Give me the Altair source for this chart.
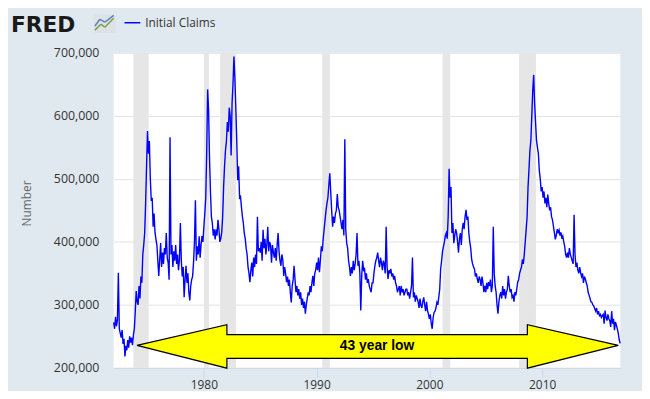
import altair as alt
import pandas as pd

# ---------------- data (monthly readings, thousands of claims) ----------------
FIRST_YEAR = 1972
claims_1970s = [
    272, 262, 281, 266, 276, 351, 262, 255, 248, 260, 238, 246,   # 1972
    218, 235, 228, 244, 232, 250, 240, 248, 236, 252, 262, 290,   # 1973
    322, 305, 300, 330, 310, 345, 335, 380, 395, 414, 461, 520,   # 1974
    576, 540, 560, 500, 465, 470, 424, 445, 415, 404, 395, 370,   # 1975
    346, 372, 398, 360, 383, 365, 390, 380, 414, 375, 367, 340,   # 1976
    566, 380, 395, 360, 385, 370, 395, 365, 380, 355, 372, 430,   # 1977
    370, 345, 360, 312, 340, 362, 335, 350, 320, 307, 330, 340,   # 1978
    345, 367, 400, 466, 370, 393, 380, 409, 375, 395, 409, 400,   # 1979
]
claims_1980s = [
    424, 445, 470, 540, 642, 610, 534, 480, 440, 430, 410, 420,   # 1980
    404, 420, 410, 435, 420, 400, 405, 415, 440, 487, 520, 545,   # 1981
    560, 590, 575, 613, 600, 537, 620, 650, 694, 660, 613, 560,   # 1982
    498, 520, 470, 472, 455, 440, 430, 414, 405, 390, 380, 360,   # 1983
    350, 336, 355, 367, 345, 375, 360, 380, 365, 440, 385, 390,   # 1984
    383, 400, 370, 419, 390, 405, 380, 395, 424, 385, 400, 395,   # 1985
    367, 395, 383, 375, 390, 370, 395, 414, 385, 370, 362, 380,   # 1986
    372, 346, 360, 350, 336, 345, 330, 340, 320, 304, 330, 340,   # 1987
    362, 340, 320, 330, 315, 325, 310, 320, 300, 310, 295, 305,   # 1988
    286, 300, 310, 320, 315, 330, 320, 335, 346, 330, 350, 355,   # 1989
]
claims_1990s = [
    367, 355, 375, 352, 370, 393, 385, 405, 420, 435, 450, 461,   # 1990
    470, 490, 509, 480, 450, 424, 440, 430, 445, 450, 476, 455,   # 1991
    450, 440, 430, 420, 435, 410, 563, 420, 398, 390, 370, 360,   # 1992
    346, 360, 350, 370, 355, 365, 380, 414, 362, 370, 350, 291,   # 1993
    346, 370, 355, 357, 340, 350, 335, 341, 330, 325, 320, 335,   # 1994
    335, 350, 362, 370, 375, 383, 370, 360, 375, 367, 355, 370,   # 1995
    365, 350, 424, 360, 341, 355, 350, 357, 345, 350, 340, 346,   # 1996
    335, 330, 320, 325, 330, 315, 330, 320, 325, 315, 320, 325,   # 1997
    325, 315, 320, 310, 320, 330, 375, 312, 320, 305, 315, 310,   # 1998
    305, 295, 310, 299, 295, 305, 312, 300, 290, 305, 291, 285,   # 1999
]
claims_2000s = [
    278, 285, 270, 262, 280, 288, 290, 295, 304, 300, 312, 325,   # 2000
    357, 370, 385, 393, 400, 410, 414, 405, 440, 516, 470, 487,   # 2001
    414, 430, 398, 410, 420, 414, 400, 383, 405, 414, 395, 420,   # 2002
    430, 420, 440, 451, 435, 440, 414, 400, 390, 372, 365, 360,   # 2003
    357, 345, 350, 341, 335, 345, 340, 330, 345, 335, 320, 330,   # 2004
    320, 335, 325, 336, 330, 340, 320, 330, 424, 350, 330, 320,   # 2005
    300, 286, 305, 315, 320, 310, 330, 315, 325, 310, 320, 325,   # 2006
    346, 330, 320, 325, 312, 315, 305, 320, 315, 325, 336, 340,   # 2007
    350, 355, 360, 372, 365, 380, 400, 419, 440, 487, 515, 545,   # 2008
    561, 600, 640, 665, 620, 590, 561, 550, 540, 513, 500, 480,   # 2009
]
claims_2010s = [
    487, 470, 480, 461, 470, 455, 475, 461, 450, 455, 440, 435,   # 2010
    425, 415, 404, 410, 420, 415, 419, 410, 415, 405, 409, 400,   # 2011
    393, 380, 375, 383, 375, 390, 380, 375, 370, 365, 443, 380,   # 2012
    360, 367, 355, 350, 360, 351, 345, 350, 335, 345, 341, 335,   # 2013
    330, 320, 315, 310, 305, 304, 300, 298, 294, 290, 295, 285,   # 2014
    290, 283, 285, 280, 283, 285, 270, 291, 280, 275, 285, 278,   # 2015
    275, 265, 290, 270, 278, 260, 273, 268, 262, 255, 245, 239,   # 2016
]

rec_start = [1973.75, 1980.0, 1981.45, 1990.5, 2001.17, 2007.95]
rec_end = [1975.1, 1980.45, 1982.85, 1991.17, 2001.85, 2009.45]

x_ticks = [1980, 1990, 2000, 2010]
y_ticks = [200000, 300000, 400000, 500000, 600000, 700000]
x_domain = [1972, 2016.93]
y_domain = [200000, 700000]

# double arrow outline (year, top value, bottom value)
arrow_x = [1974.07, 1982.04, 1982.041, 2008.689, 2008.69, 2016.75]
arrow_top = [235600, 268600, 252900, 252900, 268600, 235600]
arrow_bot = [235600, 199500, 215200, 215200, 199500, 235600]
arrow_label = "43 year low"
arrow_label_x = 1995.36
arrow_label_y = 234000

series_name = "Initial Claims"

# ---------------- tables ----------------
values_k = claims_1970s + claims_1980s + claims_1990s + claims_2000s + claims_2010s
df = pd.DataFrame({
    "t": [FIRST_YEAR + i / 12 for i in range(len(values_k))],
    "v": [k * 1000 for k in values_k],
})
rec_df = pd.DataFrame({"s": rec_start, "e": rec_end})
arrow_df = pd.DataFrame({"ax": arrow_x, "top": arrow_top, "bot": arrow_bot})
label_df = pd.DataFrame({"lx": [arrow_label_x], "ly": [arrow_label_y], "txt": [arrow_label]})
one = pd.DataFrame({"k": [0]})

W, H = 513, 319
xs = alt.Scale(domain=x_domain, nice=False, zero=False)
ys = alt.Scale(domain=y_domain, nice=False, zero=False)

x_axis = alt.Axis(
    values=x_ticks, labelExpr="format(datum.value, 'd')", grid=False, title="",
    domainColor="#ccd6eb", tickColor="#ccd6eb", tickSize=10,
    labelPadding=2, labelFont="Open Sans", labelFontSize=12, labelColor="#333333")
y_axis = alt.Axis(
    values=y_ticks, labelExpr="format(datum.value, ',')", grid=True, gridColor="#e3e3e3",
    domain=False, ticks=False, tickSize=0, labelPadding=15, labelFont="Open Sans",
    labelFontSize=12.5, labelColor="#333333", title="Number", titleFont="Open Sans",
    titleFontSize=12, titleFontWeight="normal", titleColor="#666666",
    titleX=-88, titleY=152, titleBaseline="middle", titleAlign="center")

bands = alt.Chart(rec_df).mark_rect(color="#e6e6e6").encode(
    x=alt.X("s:Q", scale=xs, axis=x_axis),
    x2="e:Q",
    y=alt.value(0),
    y2=alt.value(H),
)

line = alt.Chart(df).mark_line(color="#0000ff", strokeWidth=1.4).encode(
    x=alt.X("t:Q", scale=xs, axis=x_axis),
    y=alt.Y("v:Q", scale=ys, axis=y_axis),
)

arrow = alt.Chart(arrow_df).mark_area(fill="#ffff00", stroke="black", strokeWidth=1.2,
                                      opacity=1).encode(
    x=alt.X("ax:Q", scale=xs, axis=x_axis),
    y=alt.Y("top:Q", scale=ys, axis=y_axis),
    y2="bot:Q",
)

arrow_text = alt.Chart(label_df).mark_text(font="Liberation Sans", fontWeight="bold",
                                           fontSize=14, color="black",
                                           align="center", baseline="middle").encode(
    x=alt.X("lx:Q", scale=xs, axis=x_axis),
    y=alt.Y("ly:Q", scale=ys, axis=y_axis),
    text="txt:N",
)

# header: FRED logo and legend
logo_text = alt.Chart(one).mark_text(text="FRED", font="DejaVu Sans", fontWeight="bold",
                                     fontSize=22, color="#1a1a1a", align="left",
                                     baseline="alphabetic").encode(
    x=alt.value(-104), y=alt.value(-21))
logo_box = alt.Chart(one).mark_rect(fill="#dde2e6").encode(
    x=alt.value(-20), x2=alt.value(2), y=alt.value(-39), y2=alt.value(-20))
icon_segments = [
    (-19, -23, -13, -29, "#7aa14a"), (-13, -29, -9, -26, "#7aa14a"), (-9, -26, 0, -35, "#7aa14a"),
    (-19, -27, -14, -34, "#5b7fc0"), (-14, -34, -9, -31, "#5b7fc0"), (-9, -31, 0, -38, "#5b7fc0"),
]
icon_layers = [
    alt.Chart(one).mark_rule(color=c, strokeWidth=1.5).encode(
        x=alt.value(a), y=alt.value(b), x2=alt.value(cx), y2=alt.value(cy))
    for a, b, cx, cy, c in icon_segments
]
legend_line = alt.Chart(one).mark_rule(color="#0000ff", strokeWidth=1.5).encode(
    x=alt.value(11), x2=alt.value(27), y=alt.value(-30.5))
legend_text = alt.Chart(one).mark_text(text=series_name, font="Open Sans", fontSize=12,
                                       color="#333333", align="left",
                                       baseline="middle").encode(
    x=alt.value(32), y=alt.value(-30.5))

chart = alt.layer(bands, line, arrow, arrow_text, logo_text, logo_box, *icon_layers,
                  legend_line, legend_text).properties(
    width=W, height=H,
    background="#e1e9f0",
    autosize=alt.AutoSizeParams(type="none"),
    padding={"left": 107, "top": 43, "right": 22, "bottom": 21},
).configure_view(strokeWidth=0, fill="white")

chart.save("out.html", embed_options={"renderer": "svg", "actions": False})
